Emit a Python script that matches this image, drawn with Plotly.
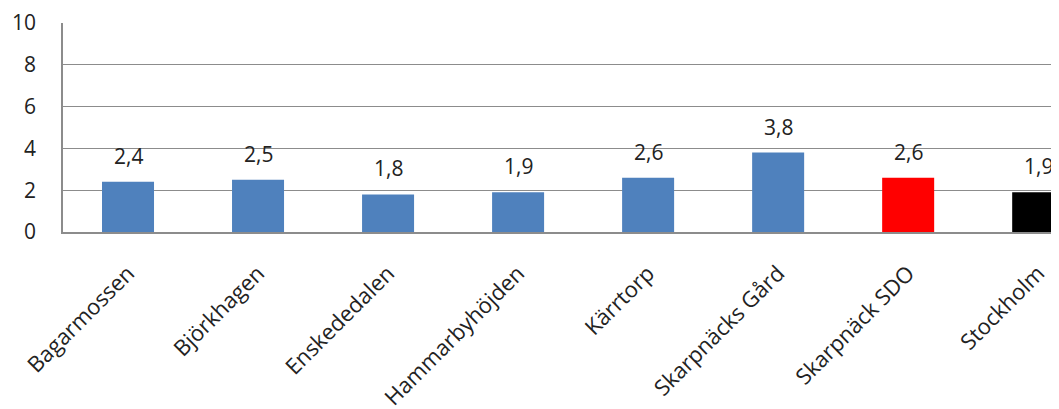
import plotly.graph_objects as go

categories = ["Bagarmossen", "Björkhagen", "Enskededalen", "Hammarbyhöjden",
              "Kärrtorp", "Skarpnäcks Gård", "Skarpnäck SDO", "Stockholm"]
values = [2.4, 2.5, 1.8, 1.9, 2.6, 3.8, 2.6, 1.9]
labels = ["2,4", "2,5", "1,8", "1,9", "2,6", "3,8", "2,6", "1,9"]
colors = ["#4F81BD"] * 6 + ["#FF0000", "#000000"]
y_ticks = [0, 2, 4, 6, 8, 10]

FONT = "Open Sans"

fig = go.Figure()
fig.add_trace(go.Bar(
    x=categories, y=values, marker_color=colors, width=0.4,
    marker_line_width=0, hoverinfo="skip",
))
for c, v, t in zip(categories, values, labels):
    fig.add_annotation(x=c, y=v, text=t, showarrow=False, yshift=26,
                       font=dict(family=FONT, size=21, color="#222222"))

fig.update_layout(
    width=1051, height=401,
    margin=dict(l=55, r=0, t=15, b=177),
    paper_bgcolor="white", plot_bgcolor="white",
    showlegend=False,
    font=dict(family=FONT, size=21, color="#222222"),
)
fig.update_xaxes(
    range=[-0.5, 7.16], tickangle=-45, automargin=False,
    showline=True, linecolor="#8C8C8C", linewidth=1.5,
    showgrid=False, ticks="", ticklabelstandoff=18,
    tickfont=dict(family=FONT, size=22, color="#222222"),
)
fig.update_yaxes(
    range=[0, 10], tickvals=y_ticks, ticktext=[str(v) for v in y_ticks],
    automargin=False, showline=True, linecolor="#8C8C8C", linewidth=1.5,
    showgrid=True, gridcolor="#8C8C8C", gridwidth=1.2, zeroline=False,
    ticks="", ticklabelstandoff=21,
    tickfont=dict(family=FONT, size=21, color="#222222"),
)
fig.write_html("out.html")
